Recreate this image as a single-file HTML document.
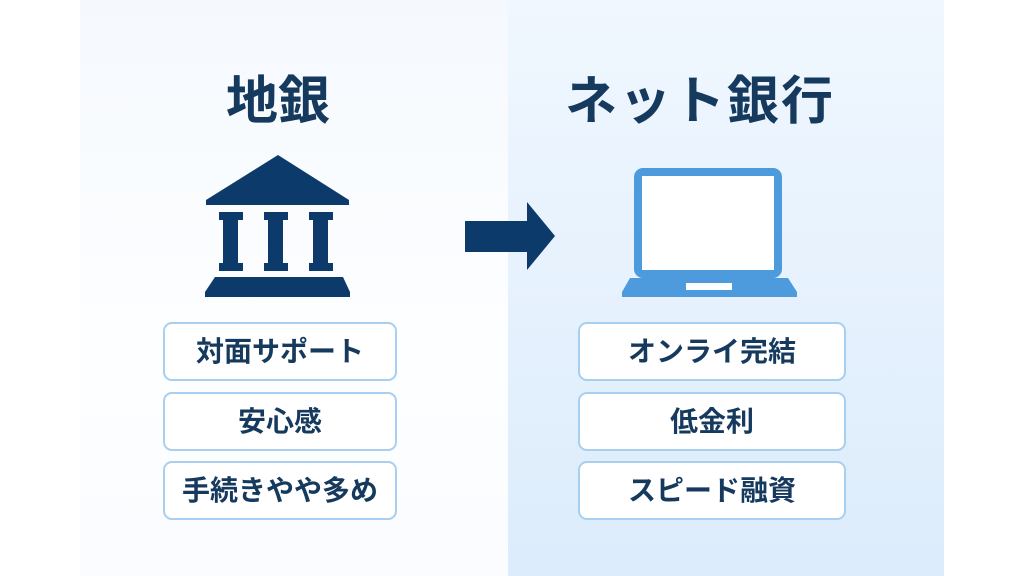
<!DOCTYPE html>
<html><head><meta charset="utf-8"><style>
body{margin:0;width:1024px;height:576px;background:#fff;position:relative;overflow:hidden;font-family:"Liberation Sans","Noto Sans CJK JP",sans-serif}
.lp{position:absolute;left:80px;top:0;width:428px;height:576px;background:linear-gradient(180deg,#f5f9fe,#fdfeff 60%,#fafcff)}
.rp{position:absolute;left:508px;top:0;width:436px;height:576px;background:linear-gradient(180deg,#f0f7fe,#dcecfc)}
.t{position:absolute;top:70px;font-size:52px;font-weight:bold;color:#163a5e;text-align:center;line-height:64px}
.b{position:absolute;height:59px;background:#fff;border:2px solid #a9cff0;border-radius:9px;box-sizing:border-box;text-align:center;line-height:55px;font-size:28px;font-weight:bold;color:#163a5e}
</style></head><body>
<div class="lp"></div><div class="rp"></div>
<div class="t" style="left:178px;width:200px">地銀</div>
<div class="t" style="left:540px;width:320px;letter-spacing:2px">ネット銀行</div>
<svg style="position:absolute;left:0;top:0" width="1024" height="576">
<g fill="#0b3a6b">
<path d="M278 155 L349 200 L349 205 L206 205 L206 200 Z"/>
<rect x="223" y="212" width="15" height="58"/><rect x="219" y="212" width="24" height="8"/><rect x="219" y="263" width="24" height="8"/>
<rect x="268" y="212" width="15" height="58"/><rect x="264" y="212" width="24" height="8"/><rect x="264" y="263" width="24" height="8"/>
<rect x="313" y="212" width="15" height="58"/><rect x="309" y="212" width="24" height="8"/><rect x="309" y="263" width="24" height="8"/>
<path d="M215 277 L343 277 L350 292 L350 297 L205 297 L205 292 Z"/>
<path d="M465 221 L527 221 L527 202 L555 236 L527 270 L527 252 L465 252 Z"/>
</g>
<rect x="634" y="168" width="148" height="110" rx="9" fill="#4d9bdc"/>
<rect x="642" y="176" width="132" height="94" fill="#fff"/>
<path d="M630 278 L788 278 L797 292 L797 297 L622 297 L622 292 Z" fill="#4d9bdc"/>
<rect x="686" y="283" width="46" height="7" fill="#fff"/>
</svg>
<div class="b" style="left:163px;top:322px;width:234px">対面サポート</div>
<div class="b" style="left:163px;top:392px;width:234px">安心感</div>
<div class="b" style="left:163px;top:461px;width:234px">手続きやや多め</div>
<div class="b" style="left:578px;top:322px;width:268px">オンライ完結</div>
<div class="b" style="left:578px;top:392px;width:268px">低金利</div>
<div class="b" style="left:578px;top:461px;width:268px">スピード融資</div>
</body></html>
